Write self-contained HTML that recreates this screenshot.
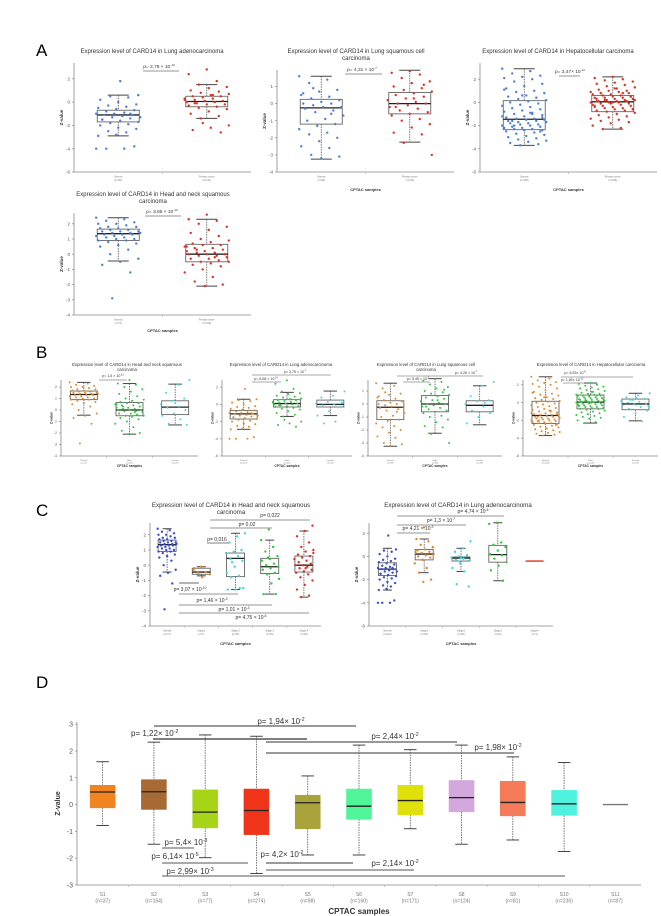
<!DOCTYPE html>
<html><head><meta charset="utf-8">
<style>
html,body{margin:0;padding:0;background:#fff;}
svg{display:block;font-family:"Liberation Sans",sans-serif;}
</style></head>
<body>
<svg id="fig" width="661" height="916" viewBox="0 0 661 916" xmlns="http://www.w3.org/2000/svg">
<text x="36" y="56" font-size="17" fill="#000">A</text>
<text x="36" y="358" font-size="17" fill="#000">B</text>
<text x="36" y="516" font-size="17" fill="#000">C</text>
<text x="36" y="688" font-size="17" fill="#000">D</text>
</svg>
<script>
// ---------- data ----------
const LUAD_N=[-4,-4,-4,-3.8,-2.8,-2.9,-2.6,-2.5,-2.3,-2.2,-2,-1.9,-1.8,-1.7,-1.6,-1.5,-1.4,-1.3,-1.3,-1.2,-1.1,-1.1,-1,-1,-0.9,-0.8,-0.7,-0.6,-0.5,-0.4,-0.3,-0.2,0,0.2,0.4,0.5,0.6,1.8,-1.5,-1.0];
const LUAD_T=[2.8,2.4,1.8,1.5,1.3,1.2,1,0.9,0.8,0.7,0.6,0.5,0.5,0.4,0.3,0.3,0.2,0.1,0.1,0,0,-0.1,-0.2,-0.2,-0.3,-0.4,-0.5,-0.6,-0.8,-1,-1.2,-1.4,-2,-2.2,-2.4,-2.6,-1.8,0.2,0.6,-0.1];
const LUSC_N=[1.6,1.4,1.2,0.8,0.7,0.5,0.4,0.3,0.2,0.1,0,0,-0.1,-0.2,-0.2,-0.3,-0.4,-0.5,-0.7,-0.9,-1,-1.2,-1.3,-1.5,-1.7,-1.8,-2,-2.2,-2.5,-2.6,-3,-3.1,-3.2,0.6,-0.6,0.9];
const LUSC_T=[1.9,1.8,1.7,1.5,1.3,1.2,1,0.9,0.8,0.7,0.6,0.5,0.4,0.3,0.2,0.1,0,0,-0.1,-0.2,-0.3,-0.4,-0.5,-0.6,-0.7,-0.9,-1,-1.2,-1.4,-1.7,-1.8,-2.3,-3,0.3,-0.2,1.1];
const LIHC_N=[2.9,2.7,2.5,2.3,2.2,2.1,2,1.8,1.6,1.4,1.2,1,0.9,0.8,0.6,0.5,0.4,0.3,0.2,0.1,0,-0.1,-0.2,-0.3,-0.4,-0.5,-0.6,-0.7,-0.8,-0.9,-1,-1.1,-1.2,-1.3,-1.4,-1.4,-1.5,-1.5,-1.6,-1.6,-1.7,-1.7,-1.8,-1.8,-1.9,-1.9,-2,-2,-2.1,-2.1,-2.2,-2.2,-2.3,-2.3,-2.4,-2.4,-2.5,-2.6,-2.7,-2.8,-2.9,-3,-3.1,-3.2,-3.3,-3.4,-3.5,-3.6,-3.7,-1.2,-0.9,-1.6,-2.5,0.6,1.1,-1.0,-2.0,-1.3];
const LIHC_T=[2.2,2.1,2,1.9,1.8,1.7,1.6,1.5,1.4,1.3,1.2,1.1,1,1,0.9,0.9,0.8,0.8,0.7,0.7,0.6,0.6,0.5,0.5,0.4,0.4,0.4,0.3,0.3,0.3,0.2,0.2,0.2,0.1,0.1,0.1,0,0,0,-0.1,-0.1,-0.1,-0.2,-0.2,-0.3,-0.3,-0.4,-0.4,-0.5,-0.5,-0.6,-0.6,-0.7,-0.7,-0.8,-0.9,-1,-1.1,-1.2,-1.3,-1.4,-1.5,-1.6,-1.7,-1.8,-2,-2.2,-2.3,0.5,0,-0.3,0.8,0.2,-0.6,1.2,0.1];
const HNSC_N=[2.4,2.3,2.2,2.1,2,2,1.9,1.8,1.8,1.7,1.7,1.6,1.6,1.5,1.5,1.5,1.4,1.4,1.4,1.3,1.3,1.3,1.2,1.2,1.1,1.1,1,1,0.9,0.9,0.8,0.7,0.6,0.5,0.3,0,-0.3,-0.5,-0.7,-1.2,-2.9];
const HNSC_T=[2.6,2.3,2.2,2,1.8,1.6,1.4,1.2,1,0.9,0.8,0.7,0.6,0.6,0.5,0.4,0.4,0.3,0.2,0.2,0.1,0.1,0,0,0,-0.1,-0.1,-0.2,-0.3,-0.3,-0.4,-0.5,-0.5,-0.6,-0.7,-0.8,-1,-1.2,-1.5,-1.8,-2,-2.1,0.5,-0.2,0.3];
const HNSC_F=[2.6,2.2,1.5,1,0.8,0.5,0.3,0.2,0,-0.3,-0.5,-0.8,-1.2,-1.3,0.6];
const LUAD_F=[1.5,1,0.8,0.5,0.3,0.1,0,-0.1,-0.3,-0.8,-1.3,-2,-2.2,0.2];
const LUSC_F=[1.7,1.4,0.6,0.3,0.2,0,-0.2,-0.5,-0.7,-1,-1.5,0.1];
const LIHC_F=[1.05,0.8,0.6,0.4,0.3,0.2,0.1,0,-0.1,-0.2,-0.3,-0.5,-0.7,-0.9,-1.2,-1.6,-2.1,0.3,-0.4,0.5];
const HNSC_S1=[-0.1,-0.3,-0.45,-0.5,-0.6,-0.8,-0.2];
const HNSC_S2=[2.1,1.9,1.5,1,0.9,0.8,0.6,0.4,0.3,-0.1,-0.5,-0.7,-0.8,-1.5,-1.6,-1.6,-1.5,0.2];
const HNSC_S3=[2.35,1.65,1.2,0.9,0.6,0.4,0.3,0.1,0,-0.1,-0.2,-0.3,-0.5,-0.6,-0.9,-1.2,-1.9,-1.9,0.5];
const HNSC_S4=[2.6,2.25,1.9,1.5,1.2,1,0.9,0.7,0.6,0.5,0.4,0.3,0.2,0.1,0,0,-0.1,-0.2,-0.3,-0.4,-0.5,-0.6,-0.8,-1,-1.3,-1.6,-2,-2.1,0.8,-0.2];
const LUAD_S1=[2.5,1.5,1.3,1,0.8,0.6,0.5,0.4,0.3,0.2,0.1,0,-0.1,-0.3,-0.6,-1,-1.4,-2,-2.2,0.3];
const LUAD_S2=[1.3,0.7,0.4,0.1,0,-0.1,-0.2,-0.3,-0.4,-0.6,-1,-1.3,-2.4,-2.6,-0.15];
const LUAD_S3=[2.9,2.8,1.2,1,0.8,0.5,0.2,0.1,-0.2,-0.5,-0.8,-1.2,-2.1];
// box stats: [whiskerHigh, q3, median, q1, whiskerLow]
const ST_LUAD_N=[0.6,-0.7,-1.1,-1.7,-2.9], ST_LUAD_T=[1.5,0.5,0.05,-0.4,-1.4];
const ST_LUSC_N=[1.6,0.25,-0.25,-1.2,-3.25], ST_LUSC_T=[1.95,0.65,0,-0.6,-2.25];
const ST_LIHC_N=[2.9,0.15,-1.45,-2.35,-3.7], ST_LIHC_T=[2.2,0.6,0.05,-0.8,-2.3];
const ST_HNSC_N=[2.4,1.65,1.35,0.9,-0.45], ST_HNSC_T=[2.3,0.65,0,-0.5,-2.1];
const ST_HNSC_F=[2.25,0.8,0.25,-0.4,-1.3], ST_LUAD_M=[1.4,0.55,0.1,-0.3,-1.4], ST_LUAD_F=[1.55,0.5,0,-0.3,-1.3];
const ST_LUSC_F=[1.4,0.25,-0.1,-0.6,-1.6], ST_LIHC_M=[2.2,0.85,0.05,-0.7,-2.3], ST_LIHC_F=[1.05,0.4,-0.15,-0.8,-2.05];
const ST_HNSC_S1=[-0.1,-0.2,-0.45,-0.6,-0.7], ST_HNSC_S2=[2.1,0.8,0.45,-0.75,-1.6], ST_HNSC_S3=[1.65,0.45,-0.1,-0.55,-1.9], ST_HNSC_S4=[2.25,0.6,0,-0.45,-2.1];
const ST_LUAD_CN=[0.7,-0.55,-1.1,-1.65,-2.9], ST_LUAD_S1=[1.5,0.6,0.2,-0.3,-1.4], ST_LUAD_S2=[0.7,-0.05,-0.15,-0.4,-1.3], ST_LUAD_S3=[2.9,0.95,0.15,-0.5,-2.1], ST_LUAD_S4=[-0.4,-0.4,-0.4,-0.4,-0.4];
// Panel D
const dCats=["S1","S2","S3","S4","S5","S6","S7","S8","S9","S10","S11"];
const dN=[37,154,77,274,98,160,171,124,81,236,87];
const dWhiskHi=[1.6,2.33,2.6,2.55,1.07,2.22,2.05,2.22,1.78,1.57,0];
const dQ3=[0.72,0.93,0.55,0.58,0.35,0.58,0.72,0.9,0.87,0.53,0];
const dMedian=[0.47,0.48,-0.28,-0.22,0.07,-0.06,0.15,0.26,0.08,0.03,0];
const dQ1=[-0.12,-0.18,-0.87,-1.12,-0.9,-0.55,-0.38,-0.27,-0.42,-0.4,0];
const dWhiskLo=[-0.78,-1.48,-1.98,-2.57,-1.88,-1.88,-0.9,-1.48,-1.32,-1.75,0];
const dTicks=[3,2,1,0,-1,-2,-3];

// ---------- helpers ----------
const NS="http://www.w3.org/2000/svg";
const svg=document.getElementById('fig');
function mk(tag,attrs,parent){const e=document.createElementNS(NS,tag);for(const k in attrs)e.setAttribute(k,attrs[k]);(parent||svg).appendChild(e);return e;}
function pText(g,x,y,base,exp,fs,anchor){
  const t=mk('text',{x:x,y:y,'font-size':fs,fill:'#333','text-anchor':anchor||'middle'},g);
  
  
  t.appendChild(document.createTextNode(base));
  if(exp){const s=mk('tspan',{dy:-fs*0.4,'font-size':fs*0.65},t);s.textContent=exp;}
  return t;
}
function panel(c){
  const g=mk('g',{});
  
  
  const n=c.groups.length;
  const step=(c.xEnd-c.x0)/n;
  const cx=i=>c.x0+(i+0.5)*step;
  const Y=v=>c.yBot-(v-c.vBot)*c.ppu;
  c.title.forEach((t,i)=>{const e=mk('text',{x:c.tx,y:c.ty+i*c.tfs*1.15,'font-size':c.tfs,fill:'#333','text-anchor':'middle'},g);e.textContent=t;
    });
  mk('line',{x1:c.x0,y1:c.yTop,x2:c.x0,y2:c.yBot,stroke:'#888','stroke-width':0.8},g);
  mk('line',{x1:c.x0,y1:c.yBot,x2:c.xEnd,y2:c.yBot,stroke:'#888','stroke-width':0.8},g);
  c.ticks.forEach(v=>{mk('line',{x1:c.x0-2,x2:c.x0,y1:Y(v),y2:Y(v),stroke:'#888','stroke-width':0.7},g);
    const e=mk('text',{x:c.x0-4,y:Y(v)+c.kfs*0.35,'font-size':c.kfs,fill:'#555','text-anchor':'end'},g);e.textContent=v;
    });
  const yl=mk('text',{x:0,y:0,'font-size':c.kfs,fill:'#333','font-weight':'bold','text-anchor':'middle',transform:`translate(${c.x0-c.kfs*2.4},${(c.yTop+c.yBot)/2}) rotate(-90)`},g);
  yl.textContent='Z-value';
  for(let i=1;i<n;i++)mk('line',{x1:c.x0+i*step,x2:c.x0+i*step,y1:c.yBot,y2:c.yBot+2,stroke:'#aaa','stroke-width':0.6},g);
  c.groups.forEach((gr,i)=>{
    const x=cx(i),bw=c.bw,s=gr.st;
    const gg=mk('g',{},g);
    
    
    if(gr.flat){mk('line',{x1:x-bw/2,x2:x+bw/2,y1:Y(s[2]),y2:Y(s[2]),stroke:gr.color||'#555','stroke-width':1.4},gg);}
    else{
    mk('line',{x1:x,x2:x,y1:Y(s[0]),y2:Y(s[1]),stroke:'#555','stroke-width':0.8,'stroke-dasharray':'1.5,1'},gg);
    mk('line',{x1:x,x2:x,y1:Y(s[3]),y2:Y(s[4]),stroke:'#555','stroke-width':0.8,'stroke-dasharray':'1.5,1'},gg);
    mk('line',{x1:x-bw*0.25,x2:x+bw*0.25,y1:Y(s[0]),y2:Y(s[0]),stroke:'#444','stroke-width':1},gg);
    mk('line',{x1:x-bw*0.25,x2:x+bw*0.25,y1:Y(s[4]),y2:Y(s[4]),stroke:'#444','stroke-width':1},gg);
    mk('rect',{x:x-bw/2,y:Y(s[1]),width:bw,height:Y(s[3])-Y(s[1]),fill:gr.fill||'none',stroke:gr.fill?gr.fill:'#666','stroke-width':gr.fill?0.6:0.9},gg);
    mk('line',{x1:x-bw/2,x2:x+bw/2,y1:Y(s[2]),y2:Y(s[2]),stroke:'#222','stroke-width':1.3},gg);
    }
    if(gr.pts){gr.pts.forEach((v,k)=>{
      const j=(((k*37+i*11)%23)/22-0.5)*bw*1.05;
      const d=mk('circle',{cx:x+j,cy:Y(v),r:c.r,fill:gr.color},gg);
      });}
    const l=mk('text',{x:x,y:c.yBot+c.lfs*2.2,'font-size':c.lfs,fill:'#777','text-anchor':'middle'},g);l.textContent=gr.label;
    
    const m=mk('text',{x:x,y:c.yBot+c.lfs*3.5,'font-size':c.lfs,fill:'#777','text-anchor':'middle'},g);m.textContent='(n='+gr.n+')';
    
  });
  if(c.xtitle){const e=mk('text',{x:(c.x0+c.xEnd)/2,y:c.xty,'font-size':c.xfs,fill:'#333','font-weight':'bold','text-anchor':'middle'},g);e.textContent='CPTAC samples';
    }
  (c.pv||[]).forEach(p=>{mk('line',{x1:p[3],x2:p[4],y1:p[5],y2:p[5],stroke:p[6]||'#aaa','stroke-width':p[7]||1.2},g);pText(g,p[1],p[2],p[0],p[8],c.pfs,p[9]);});
}
const BL='#4a7fd8',RD='#e03020',OR='#e0882c',GR='#2ec83a',CY='#3ed8e0',BV='#3a4fd0';
// ---- Panel A ----
panel({name:'chart-a-luad',title:['Expression level of CARD14 in Lung adenocarcinoma'],tx:152,ty:53,tfs:6,x0:74,xEnd:251,yTop:63,yBot:172,vBot:-6,ppu:11.65,ticks:[2,0,-2,-4,-6],kfs:4.5,lfs:2.5,bw:42,r:1.2,pfs:4.8,
 groups:[{label:'Normal',n:111,st:ST_LUAD_N,pts:LUAD_N,color:BL},{label:'Primary tumor',n:111,st:ST_LUAD_T,pts:LUAD_T,color:RD}],
 pv:[['p= 2,79 × 10',159,68,143,179,71,'#aaa',1.2,'-10']]});
panel({name:'chart-a-lusc',title:['Expression level of CARD14 in Lung squamous cell','carcinoma'],tx:356,ty:53,tfs:6,x0:277,xEnd:454,yTop:70,yBot:172,vBot:-4,ppu:17.1,ticks:[1,0,-1,-2,-3,-4],kfs:4.5,lfs:2.5,bw:42,r:1.2,xtitle:1,xty:191,xfs:4,pfs:4.8,
 groups:[{label:'Normal',n:99,st:ST_LUSC_N,pts:LUSC_N,color:BL},{label:'Primary tumor',n:110,st:ST_LUSC_T,pts:LUSC_T,color:RD}],
 pv:[['p= 4,31 × 10',362,71,345,382,74,'#aaa',1.2,'-7']]});
panel({name:'chart-a-lihc',title:['Expression level of CARD14 in Hepatocellular carcinoma'],tx:558,ty:53,tfs:6,x0:480,xEnd:657,yTop:63,yBot:172,vBot:-6,ppu:11.6,ticks:[2,0,-2,-4,-6],kfs:4.5,lfs:2.5,bw:42,r:1.2,xtitle:1,xty:191,xfs:4,pfs:4.8,
 groups:[{label:'Normal',n:165,st:ST_LIHC_N,pts:LIHC_N,color:BL},{label:'Primary tumor',n:165,st:ST_LIHC_T,pts:LIHC_T,color:RD}],
 pv:[['p= 3,47× 10',570,73,559,580,76,'#aaa',1.2,'-12']]});
panel({name:'chart-a-hnsc',title:['Expression level of CARD14 in Head and neck squamous','carcinoma'],tx:153,ty:196,tfs:6,x0:74,xEnd:251,yTop:213,yBot:315,vBot:-4,ppu:15.2,ticks:[2,1,0,-1,-2,-3,-4],kfs:4.5,lfs:2.5,bw:42,r:1.2,xtitle:1,xty:332,xfs:4,pfs:4.8,
 groups:[{label:'Normal',n:71,st:ST_HNSC_N,pts:HNSC_N,color:BL},{label:'Primary tumor',n:108,st:ST_HNSC_T,pts:HNSC_T,color:RD}],
 pv:[['p= 3,65 × 10',162,213,145,181,216,'#aaa',1.2,'-10']]});
// ---- Panel B ----
panel({name:'chart-b-hnsc',title:['Expression level of CARD14 in Head and neck squamous','carcinoma'],tx:127,ty:366,tfs:4.3,x0:61,xEnd:198,yTop:380,yBot:456,vBot:-4,ppu:11.5,ticks:[2,1,0,-1,-2,-3,-4],kfs:3.5,lfs:2.2,bw:27,r:1,xtitle:1,xty:467,xfs:3.3,pfs:3.6,
 groups:[{label:'Normal',n:71,st:ST_HNSC_N,pts:HNSC_N,color:OR},{label:'Male',n:84,st:ST_HNSC_T,pts:HNSC_T,color:GR},{label:'Female',n:24,st:ST_HNSC_F,pts:HNSC_F,color:CY}],
 pv:[['p= 1,5 × 10',113,377,99,127,380,'#aaa',1,'-10']]});
panel({name:'chart-b-luad',title:['Expression level of CARD14 in Lung adenocarcinoma'],tx:281,ty:366,tfs:4.3,x0:222,xEnd:352,yTop:380,yBot:456,vBot:-6,ppu:8.6,ticks:[2,0,-2,-4,-6],kfs:3.5,lfs:2.2,bw:27,r:1,xtitle:1,xty:467,xfs:3.3,pfs:3.6,
 groups:[{label:'Normal',n:111,st:ST_LUAD_N,pts:LUAD_N,color:OR},{label:'Male',n:60,st:ST_LUAD_M,pts:LUAD_T,color:GR},{label:'Female',n:51,st:ST_LUAD_F,pts:LUAD_F,color:CY}],
 pv:[['p= 3,75 × 10',295,373,252,331,375,'#aaa',1,'-7'],['p= 8,08 × 10',266,380,252,281,382,'#aaa',1,'-10']]});
panel({name:'chart-b-lusc',title:['Expression level of CARD14 in Lung squamous cell','carcinoma'],tx:426,ty:366,tfs:4.3,x0:368,xEnd:502,yTop:380,yBot:456,vBot:-4,ppu:13,ticks:[1,0,-1,-2,-3,-4],kfs:3.5,lfs:2.2,bw:27,r:1,xtitle:1,xty:467,xfs:3.3,pfs:3.6,
 groups:[{label:'Normal',n:99,st:ST_LUSC_N,pts:LUSC_N,color:OR},{label:'Male',n:82,st:ST_LUSC_T,pts:LUSC_T,color:GR},{label:'Female',n:28,st:ST_LUSC_F,pts:LUSC_F,color:CY}],
 pv:[['p= 4,26 × 10',466,374,397,483,376,'#aaa',1,'-7'],['p= 5,49 × 10',418,380,403,430,382,'#aaa',1,'-7']]});
panel({name:'chart-b-lihc',title:['Expression level of CARD14 in Hepatocellular carcinoma'],tx:591,ty:366,tfs:4.3,x0:523,xEnd:658,yTop:380,yBot:456,vBot:-6,ppu:8.9,ticks:[2,0,-2,-4,-6],kfs:3.5,lfs:2.2,bw:27,r:1,xtitle:1,xty:467,xfs:3.3,pfs:3.6,
 groups:[{label:'Normal',n:165,st:ST_LIHC_N,pts:LIHC_N,color:OR},{label:'Male',n:120,st:ST_LIHC_M,pts:LIHC_T,color:GR},{label:'Female',n:45,st:ST_LIHC_F,pts:LIHC_F,color:CY}],
 pv:[['p= 6,53× 10',575,374,561,633,377,'#aaa',1,'-8'],['p= 1,80× 10',572,381,563,584,383,'#aaa',1,'-12']]});
// ---- Panel C ----
panel({name:'chart-c-hnsc',title:['Expression level of CARD14 in Head and neck squamous','carcinoma'],tx:231,ty:507,tfs:6.2,x0:150,xEnd:321,yTop:523,yBot:626,vBot:-4,ppu:15.2,ticks:[2,1,0,-1,-2,-3,-4],kfs:4.5,lfs:2.5,bw:18,r:1.2,xtitle:1,xty:645,xfs:4,pfs:5,
 groups:[{label:'Normal',n:71,st:ST_HNSC_N,pts:HNSC_N,color:BV},{label:'Stage1',n:7,st:ST_HNSC_S1,pts:HNSC_S1,color:OR},{label:'Stage 2',n:25,st:ST_HNSC_S2,pts:HNSC_S2,color:CY},{label:'Stage 3',n:30,st:ST_HNSC_S3,pts:HNSC_S3,color:GR},{label:'Stage 4',n:46,st:ST_HNSC_S4,pts:HNSC_S4,color:RD}],
 pv:[['p= 0,022',270,517,210,310,520,'#aaa',1.2,''],['p= 0,02',247,526,210,272,528,'#aaa',1.2,''],['p= 0,016',217,541,207,229,543,'#999',1.2,''],
     ['p= 3,07 × 10',190,591,179,199,583,'#888',1.2,'-10'],['p= 1,46 × 10',212,602,179,238,594,'#aaa',1.2,'-3'],['p= 1,01 × 10',234,611,179,272,605,'#aaa',1.2,'-3'],['p= 4,75 × 10',251,619,179,309,613,'#aaa',1.2,'-6']]});
panel({name:'chart-c-luad',title:['Expression level of CARD14 in Lung adenocarcinoma'],tx:458,ty:507,tfs:6.2,x0:369,xEnd:553,yTop:523,yBot:626,vBot:-6,ppu:11.6,ticks:[2,0,-2,-4,-6],kfs:4.5,lfs:2.5,bw:18,r:1.2,xtitle:1,xty:645,xfs:4,pfs:5,
 groups:[{label:'Normal',n:111,st:ST_LUAD_CN,pts:LUAD_N,color:BV},{label:'Stage1',n:60,st:ST_LUAD_S1,pts:LUAD_S1,color:OR},{label:'Stage2',n:30,st:ST_LUAD_S2,pts:LUAD_S2,color:CY},{label:'Stage3',n:22,st:ST_LUAD_S3,pts:LUAD_S3,color:GR},{label:'Stage4',n:1,st:ST_LUAD_S4,pts:null,color:RD,flat:1}],
 pv:[['p= 4,74 × 10',473,513,397,504,516,'#aaa',1.2,'-6'],['p= 1,3 × 10',441,522,397,466,525,'#aaa',1.2,'-7'],['p= 4,21 × 10',418,530,397,430,533,'#aaa',1.2,'-9']]});
// ---- Panel D ----
const dFills=['#f0841e','#a86a35','#a8d418','#f0341a','#aaa23a','#4ff598','#e0e00a','#d3a8dc','#f47a58','#4ef2de','#555'];
panel({name:'chart-d-cptac',title:[],tx:0,ty:0,tfs:8,x0:77,xEnd:641,yTop:722,yBot:885,vBot:-3,ppu:26.8,ticks:dTicks,kfs:7,lfs:5,bw:25,r:0,xtitle:1,xty:914,xfs:8,pfs:8,
 groups:dCats.map((c,i)=>({label:c,n:dN[i],st:[dWhiskHi[i],dQ3[i],dMedian[i],dQ1[i],dWhiskLo[i]],fill:dFills[i],flat:i===10?1:0,color:'#777',pts:null})),
 pv:[['p= 1,94× 10',281,724,154,356,726,'#333',1,'-2'],['p= 1,22× 10',131,736,153,307,739,'#333',1.2,'-2','start'],['p= 2,44× 10',395,739,266,457,742,'#333',0.9,'-2'],['p= 1,98× 10',498,750,266,514,753,'#333',0.9,'-2'],
     ['p= 5,4× 10',186,845,162,194,848,'#555',1,'-3'],['p= 6,14× 10',175,859,162,248,863,'#555',0.9,'-5'],['p= 2,99× 10',190,874,162,565,876,'#555',0.9,'-3'],['p= 4,2× 10',282,857,266,353,863,'#333',1,'-2'],['p= 2,14× 10',395,866,266,414,870,'#555',0.9,'-2']]});
</script>
</body></html>
